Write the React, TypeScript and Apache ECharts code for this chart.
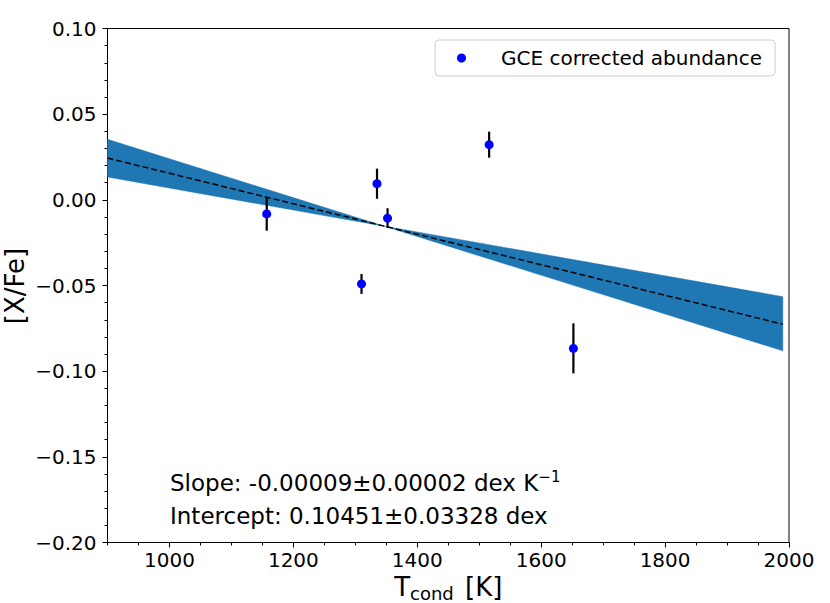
import React, { useEffect, useRef } from "react";
import * as echarts from "echarts";

// ---- data ----
const tcond = [1157, 1310, 1335, 1352, 1516, 1652];
const abundance = [-0.0082, -0.0491, 0.0094, -0.0107, 0.0322, -0.0867];
const abundanceErr = [0.0098, 0.0058, 0.0088, 0.0058, 0.0076, 0.0146];

const fitX = [900, 1990];
const fitY = [0.0244, -0.0726];

const bandX = [900, 1347, 1990];
const bandUpper = [0.0353, -0.0154, -0.0565];
const bandLower = [0.0133, -0.0154, -0.0881];

const xMajorTicks = [1000, 1200, 1400, 1600, 1800, 2000];

const seriesName = "GCE corrected abundance";
const yTitle = "[X/Fe]";
const slopeText = "Slope: -0.00009±0.00002 dex K";
const slopeSup = "\u22121";
const interceptText = "Intercept: 0.10451±0.03328 dex";

const FONT = "DejaVu Sans";

export default function App() {
  const ref = useRef<HTMLDivElement>(null);

  useEffect(() => {
    if (!ref.current) return;
    const chart = echarts.init(ref.current, null, { renderer: "svg" });

    const points = tcond.map((x, i) => [x, abundance[i], abundanceErr[i]]);
    const fitData = fitX.map((x, i) => [x, fitY[i]]);

    const option: any = {
      animation: false,
      backgroundColor: "#ffffff",
      grid: {
        left: 107.5,
        right: 41,
        top: 28.5,
        bottom: 60.5,
        containLabel: false,
        outerBoundsMode: "none",
        show: true,
        borderColor: "#000",
        borderWidth: 1,
        backgroundColor: "transparent",
      },
      legend: {
        data: [seriesName],
        left: 435,
        top: 40,
        selectedMode: false,
        padding: [8, 13, 8, 22],
        borderColor: "#cccccc",
        borderWidth: 1,
        borderRadius: 4,
        backgroundColor: "rgba(255,255,255,0.8)",
        icon: "circle",
        itemWidth: 9,
        itemHeight: 9,
        itemGap: 0,
        textStyle: {
          fontFamily: FONT,
          fontSize: 20,
          color: "#000",
          padding: [0, 0, 0, 30],
        },
      },
      xAxis: [
        {
          type: "value",
          min: 900,
          max: 2000,
          interval: 100,
          position: "bottom",
          name: "{t|T}{s|cond}{k| [K]}",
          nameLocation: "middle",
          nameGap: 23,
          nameTextStyle: {
            rich: {
              t: { fontFamily: FONT, fontSize: 26, color: "#000", lineHeight: 30 },
              s: {
                fontFamily: FONT,
                fontSize: 18,
                color: "#000",
                lineHeight: 12,
                verticalAlign: "bottom",
              },
              k: {
                fontFamily: FONT,
                fontSize: 26,
                color: "#000",
                lineHeight: 30,
                padding: [0, 0, 0, 3],
              },
            },
          },
          axisLine: { show: true, onZero: false, lineStyle: { color: "#000", width: 1 } },
          axisTick: {
            show: true,
            customValues: xMajorTicks,
            length: 5,
            inside: false,
            lineStyle: { color: "#000", width: 1 },
          },
          axisLabel: {
            customValues: xMajorTicks,
            fontFamily: FONT,
            fontSize: 20,
            color: "#000",
            margin: 7,
            formatter: (v: number) => String(Math.round(v)),
          },
          splitLine: { show: false },
        },
        {
          type: "value",
          min: 900,
          max: 2000,
          interval: 50,
          position: "bottom",
          axisLine: { show: false, onZero: false },
          axisTick: {
            show: true,
            length: 3,
            inside: false,
            lineStyle: { color: "#000", width: 1 },
          },
          axisLabel: { show: false },
          splitLine: { show: false },
        },
      ],
      yAxis: {
        type: "value",
        min: -0.2,
        max: 0.1,
        interval: 0.05,
        axisLine: { show: true, onZero: false, lineStyle: { color: "#000", width: 1 } },
        axisTick: {
          show: true,
          length: 5,
          inside: false,
          lineStyle: { color: "#000", width: 1 },
        },
        minorTick: {
          show: true,
          splitNumber: 5,
          length: 3,
          lineStyle: { color: "#000", width: 1 },
        },
        axisLabel: {
          fontFamily: FONT,
          fontSize: 20,
          color: "#000",
          margin: 11,
          formatter: (v: number) => {
            const s = Math.abs(v) < 1e-9 ? "0.00" : v.toFixed(2);
            return s.replace("-", "\u2212");
          },
        },
        splitLine: { show: false },
        minorSplitLine: { show: false },
      },
      graphic: [
        {
          type: "text",
          x: 15,
          y: 286,
          rotation: Math.PI / 2,
          z: 100,
          style: {
            text: yTitle,
            fontFamily: FONT,
            fontSize: 26,
            align: "center",
            verticalAlign: "middle",
            fill: "#000",
          },
        },
        {
          type: "text",
          x: 170,
          y: 483,
          z: 100,
          style: {
            text: `{m|${slopeText}}{s|${slopeSup}}`,
            verticalAlign: "middle",
            align: "left",
            fill: "#000",
            rich: {
              m: { fontFamily: FONT, fontSize: 23, lineHeight: 28, fill: "#000" },
              s: {
                fontFamily: FONT,
                fontSize: 15,
                lineHeight: 26,
                verticalAlign: "top",
                fill: "#000",
              },
            },
          },
        },
        {
          type: "text",
          x: 170,
          y: 516,
          z: 100,
          style: {
            text: interceptText,
            fontFamily: FONT,
            fontSize: 23,
            verticalAlign: "middle",
            align: "left",
            fill: "#000",
          },
        },
      ],
      series: [
        {
          type: "custom",
          name: "band",
          xAxisIndex: 0,
          yAxisIndex: 0,
          z: 1,
          silent: true,
          data: [[bandX[0], bandUpper[0]]],
          renderItem: (params: any, api: any) => {
            const pts: number[][] = [];
            for (let i = 0; i < bandX.length; i++) pts.push(api.coord([bandX[i], bandUpper[i]]));
            for (let i = bandX.length - 1; i >= 0; i--) pts.push(api.coord([bandX[i], bandLower[i]]));
            return {
              type: "polygon",
              shape: { points: pts },
              style: { fill: "#1f77b4", stroke: "#1f77b4", lineWidth: 0.5 },
            };
          },
        },
        {
          type: "line",
          name: "fit",
          xAxisIndex: 0,
          z: 2,
          data: fitData,
          symbol: "none",
          silent: true,
          lineStyle: { color: "#000", width: 1.5, type: [6, 3] },
        },
        {
          type: "custom",
          name: "errors",
          xAxisIndex: 0,
          z: 3,
          silent: true,
          data: points,
          encode: { x: 0, y: 1 },
          renderItem: (params: any, api: any) => {
            const x = api.value(0);
            const y = api.value(1);
            const e = api.value(2);
            const p1 = api.coord([x, y - e]);
            const p2 = api.coord([x, y + e]);
            return {
              type: "line",
              shape: { x1: p1[0], y1: p1[1], x2: p2[0], y2: p2[1] },
              style: { stroke: "#000", lineWidth: 2.2 },
            };
          },
        },
        {
          type: "scatter",
          name: seriesName,
          xAxisIndex: 0,
          z: 4,
          data: points.map((p) => [p[0], p[1]]),
          symbol: "circle",
          symbolSize: 9,
          itemStyle: { color: "#0000ff", opacity: 1 },
          silent: true,
        },
      ],
    };

    chart.setOption(option);
    return () => chart.dispose();
  }, []);

  return (
    <div
      ref={ref}
      style={{ position: "fixed", left: 0, top: 0, width: 830, height: 603, background: "#fff" }}
    />
  );
}
